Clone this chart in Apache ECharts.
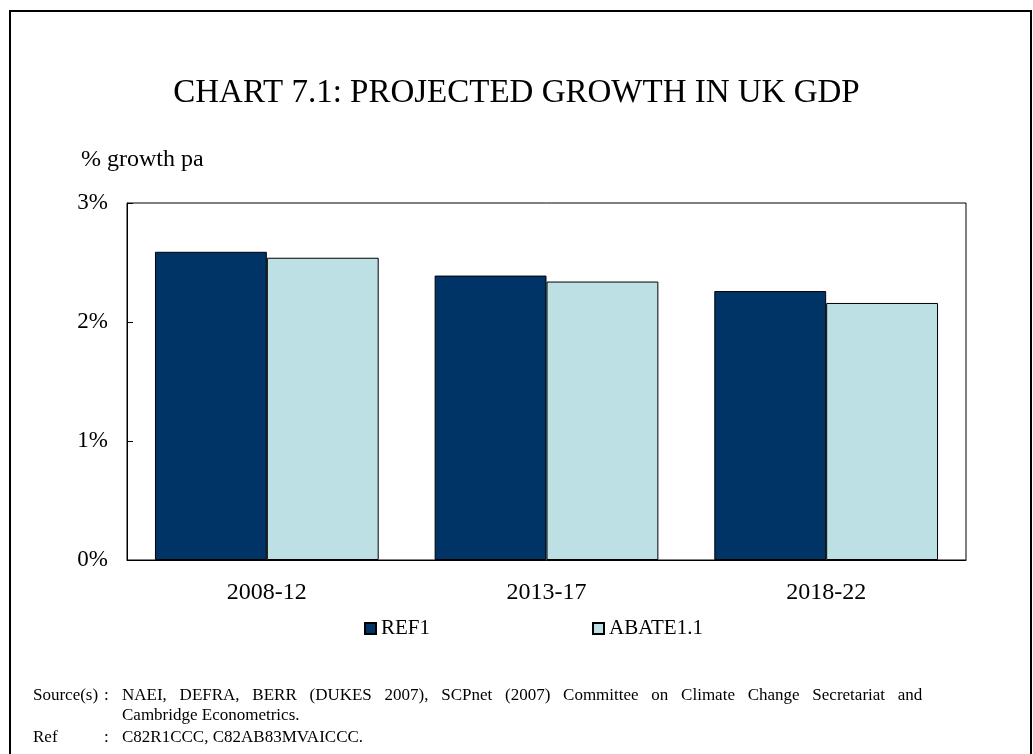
<!DOCTYPE html>
<html>
<head>
<meta charset="utf-8">
<script src="https://cdn.jsdelivr.net/npm/echarts@6/dist/echarts.min.js"></script>
<style>
  html, body { margin: 0; padding: 0; background: #fff; }
  #chart { width: 1033px; height: 754px; }
</style>
</head>
<body>
<div id="chart"></div>
<script>
// data
const periods = ['2008-12', '2013-17', '2018-22'];
const ref1 = [2.59, 2.39, 2.26];
const abate = [2.54, 2.34, 2.16];
const yTicks = [0, 1, 2, 3];

const serif = '"Liberation Serif", "Times New Roman", serif';
const noteFont = '17px ' + serif;

// first source line is justified in the original, so widen the word gaps a bit
const sourceLine1 = 'NAEI, DEFRA, BERR (DUKES 2007), SCPnet (2007) Committee on Climate Change Secretariat and'
  .split(' ').join(' \u2002');

const chart = echarts.init(document.getElementById('chart'));

const option = {
  backgroundColor: '#fff',
  animation: false,
  title: {
    text: 'CHART 7.1: PROJECTED GROWTH IN UK GDP',
    left: 'center',
    top: 72,
    textStyle: { fontFamily: serif, fontSize: 33, fontWeight: 'normal', color: '#000' }
  },
  legend: {
    left: 364,
    top: 618,
    padding: 0,
    itemWidth: 11,
    itemHeight: 11,
    itemGap: 162,
    icon: 'rect',
    textStyle: { fontFamily: serif, fontSize: 21, color: '#000' },
    data: ['REF1', 'ABATE1.1']
  },
  grid: {
    left: 127,
    right: 67,
    top: 203,
    bottom: 194,
    show: true,
    borderColor: '#000',
    borderWidth: 1,
    backgroundColor: 'transparent'
  },
  xAxis: {
    type: 'category',
    data: periods,
    axisLine: { lineStyle: { color: '#000' } },
    axisTick: { show: false },
    axisLabel: { fontFamily: serif, fontSize: 24, color: '#000', margin: 21 }
  },
  yAxis: {
    type: 'value',
    min: yTicks[0],
    max: yTicks[yTicks.length - 1],
    interval: 1,
    splitLine: { show: false },
    axisLine: { show: true, lineStyle: { color: '#000' } },
    axisTick: { show: true, inside: true, length: 6, lineStyle: { color: '#000' } },
    axisLabel: { fontFamily: serif, fontSize: 23, color: '#000', margin: 19, formatter: '{value}%' }
  },
  series: [
    {
      name: 'REF1',
      type: 'bar',
      data: ref1,
      barWidth: '40%',
      barGap: '0%',
      itemStyle: { color: '#003366', borderColor: '#000', borderWidth: 1 }
    },
    {
      name: 'ABATE1.1',
      type: 'bar',
      data: abate,
      barWidth: '40%',
      barGap: '0%',
      itemStyle: { color: '#BCE0E3', borderColor: '#000', borderWidth: 1 }
    }
  ],
  graphic: [
    {
      type: 'rect',
      shape: { x: 10, y: 11, width: 1021, height: 780 },
      style: { fill: 'none', stroke: '#000', lineWidth: 2 },
      silent: true
    },
    {
      type: 'text', left: 81, top: 148,
      style: { text: '% growth pa', font: '24px ' + serif, fill: '#000' }
    },
    { type: 'text', left: 33, top: 687, style: { text: 'Source(s)', font: noteFont, fill: '#000' } },
    { type: 'text', left: 104, top: 687, style: { text: ':', font: noteFont, fill: '#000' } },
    { type: 'text', left: 122, top: 687, style: { text: sourceLine1, font: noteFont, fill: '#000' } },
    { type: 'text', left: 122, top: 707, style: { text: 'Cambridge Econometrics.', font: noteFont, fill: '#000' } },
    { type: 'text', left: 33, top: 729, style: { text: 'Ref', font: noteFont, fill: '#000' } },
    { type: 'text', left: 104, top: 729, style: { text: ':', font: noteFont, fill: '#000' } },
    { type: 'text', left: 122, top: 729, style: { text: 'C82R1CCC, C82AB83MVAICCC.', font: noteFont, fill: '#000' } }
  ]
};

chart.setOption(option);
</script>
</body>
</html>
